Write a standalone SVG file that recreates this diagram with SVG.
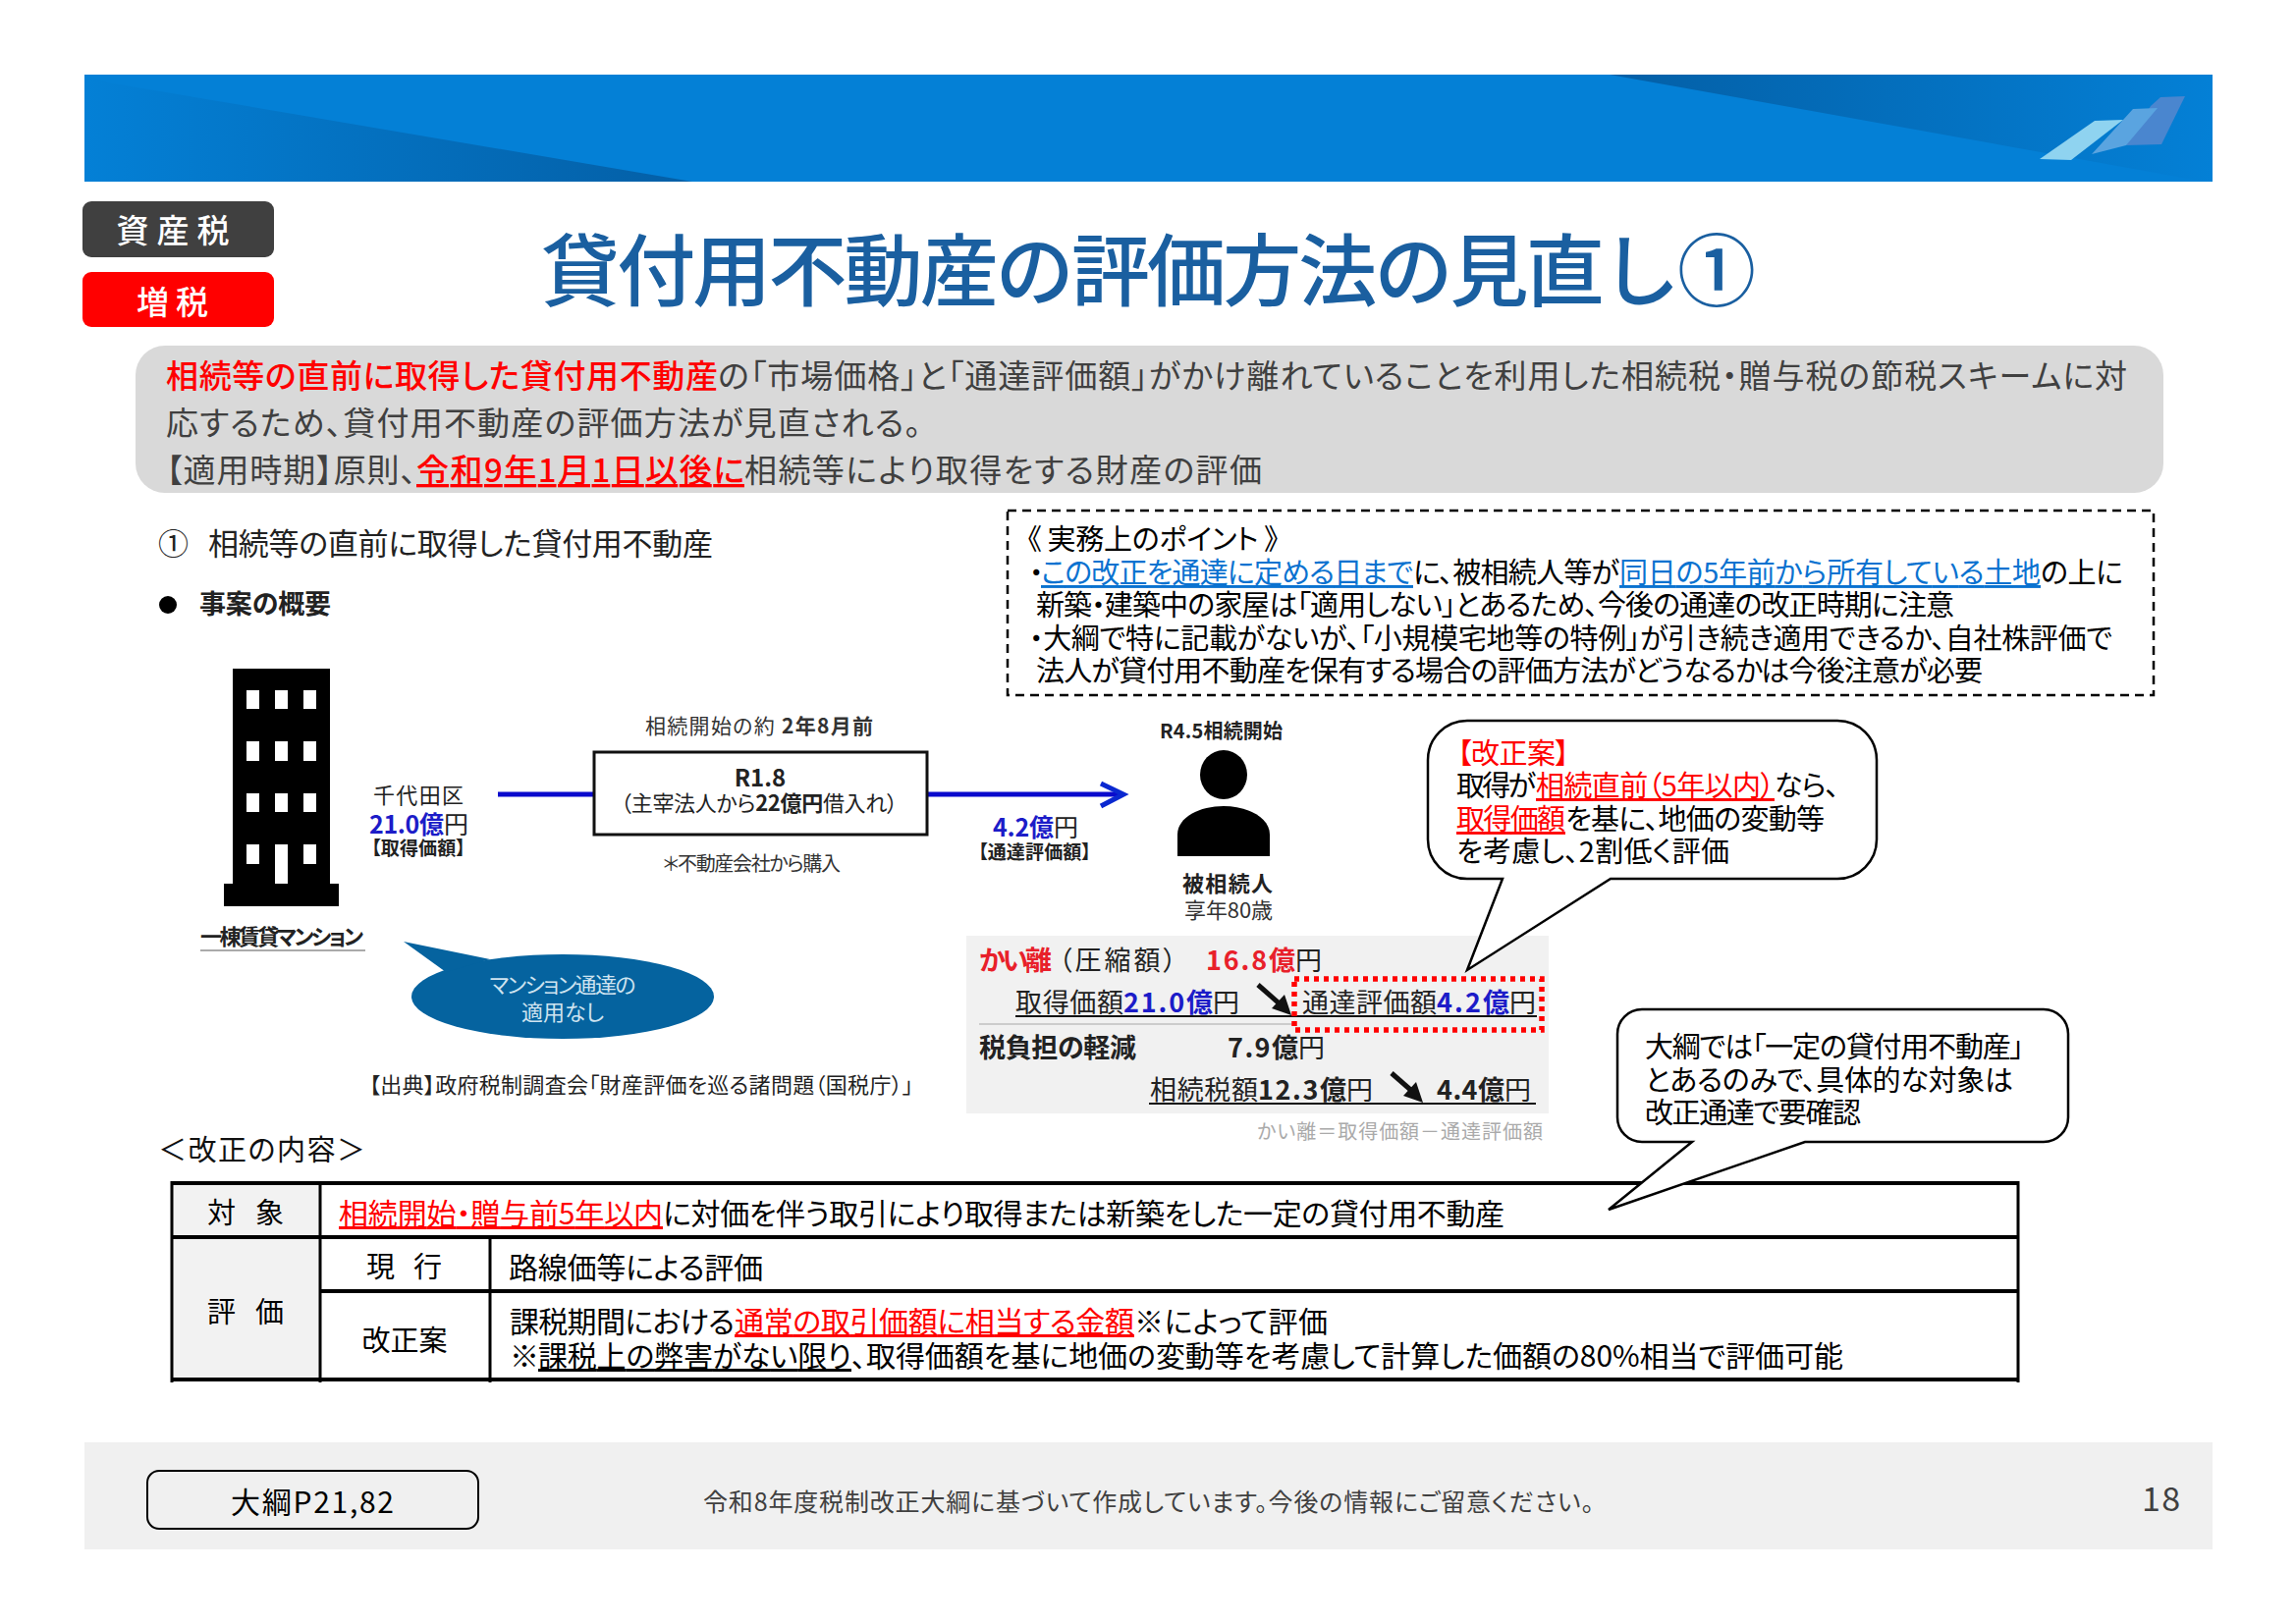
<svg xmlns="http://www.w3.org/2000/svg" width="2338" height="1653" viewBox="0 0 2338 1653">
<style>
text{font-family:"Noto Sans CJK JP","Noto Sans",sans-serif;font-feature-settings:"palt";fill:#000;white-space:pre}
.r{fill:#f00}.b{fill:#1c1cc8;font-weight:700}.u{text-decoration:underline}.bl{fill:#0a72d0}
.g{fill:#404040}.bd{font-weight:700}.m{text-anchor:middle}
.rb{fill:#e8202a;font-weight:700}
.t33{font-size:33px}.t30{font-size:30px}.t31{font-size:31px}.t29{font-size:29px}.t22{font-size:22px}.t20{font-size:20px}.t26{font-size:27px}
.call{fill:#fff;stroke:#000;stroke-width:2.5;stroke-linejoin:miter}
.cell{fill:none;stroke:#000;stroke-width:4}
</style>
<defs>
<linearGradient id="hl" x1="0" x2="1" y1="0" y2="0"><stop offset="0" stop-color="#0480d6"/><stop offset="1" stop-color="#045fa6"/></linearGradient>
<linearGradient id="hr" x1="0" x2="1" y1="0" y2="0"><stop offset="0" stop-color="#045fa6"/><stop offset="1" stop-color="#0480d6"/></linearGradient>
</defs>
<rect width="2338" height="1653" fill="#fff"/>

<g id="header">
<rect x="86" y="76" width="2167" height="109" fill="#0480d6"/>
<polygon points="86,185 86,76 110,84 705,185" fill="url(#hl)"/>
<polygon points="1639,76 2253,76 2253,185 2245,185" fill="url(#hr)"/>
<polygon points="2165,148 2190,108 2200,99 2225,98 2201,147" fill="#4a86cf"/>
<polygon points="2130,157 2162,122 2172,111 2197,110 2165,148" fill="#5aa4e0"/>
<polygon points="2077,162 2133,123 2162,122 2109,163" fill="#8fd3f0"/>
</g>

<g id="tag-asset">
<rect x="84" y="205" width="195" height="57" rx="9" fill="#404040"/>
<text x="180" y="247" class="m" font-size="33" style="fill:#fff;letter-spacing:8px;font-weight:500">資産税</text>
</g>
<g id="tag-increase">
<rect x="84" y="277" width="195" height="56" rx="9" fill="#f00"/>
<text x="179" y="320" class="m" font-size="33" style="fill:#fff;letter-spacing:7px;font-weight:500">増税</text>
</g>
<text id="title" x="551" y="305" font-size="80" textLength="1237" style="fill:#1a5fa0;font-weight:500;font-feature-settings:normal">貸付用不動産の評価方法の見直し①</text>

<g id="summary">
<rect x="138" y="352" width="2065" height="150" rx="30" fill="#d9d9d9"/>
<text y="395" class="t33 g"><tspan x="169" textLength="562" class="r" style="font-weight:500">相続等の直前に取得した貸付用不動産</tspan><tspan x="731" textLength="1435">の「市場価格」と「通達評価額」がかけ離れていることを利用した相続税・贈与税の節税スキームに対</tspan></text>
<text x="169" y="443" class="t33 g" textLength="769">応するため、貸付用不動産の評価方法が見直される。</text>
<text y="491" class="t33 g"><tspan x="169" textLength="255">【適用時期】原則、</tspan><tspan x="424" textLength="334" class="r u" style="font-weight:500">令和9年1月1日以後に</tspan><tspan x="758" textLength="527">相続等により取得をする財産の評価</tspan></text>
</g>

<g id="heading1">
<text x="161" y="565" class="t31" style="fill:#222">①</text>
<text x="212" y="565" class="t31" textLength="514" style="fill:#222">相続等の直前に取得した貸付用不動産</text>
</g>
<g id="heading2">
<circle cx="171" cy="616" r="9" fill="#000"/>
<text x="203" y="625" class="t26 bd" textLength="134" style="fill:#222">事案の概要</text>
</g>

<g id="points">
<rect x="1026" y="520" width="1167" height="188" fill="none" stroke="#000" stroke-width="2.5" stroke-dasharray="9 6"/>
<text x="1046" y="560" class="t29" textLength="256">《 実務上のポイント 》</text>
<text y="594" class="t29"><tspan x="1048" textLength="12">・</tspan><tspan x="1060" textLength="379" class="bl u">この改正を通達に定める日まで</tspan><tspan x="1439" textLength="210">に、被相続人等が</tspan><tspan x="1649" textLength="429" class="bl u">同日の5年前から所有している土地</tspan><tspan x="2078" textLength="84">の上に</tspan></text>
<text x="1055" y="627" class="t29" textLength="935">新築・建築中の家屋は「適用しない」とあるため、今後の通達の改正時期に注意</text>
<text x="1048" y="661" class="t29" textLength="1103">・大綱で特に記載がないが、「小規模宅地等の特例」が引き続き適用できるか、自社株評価で</text>
<text x="1055" y="694" class="t29" textLength="964">法人が貸付用不動産を保有する場合の評価方法がどうなるかは今後注意が必要</text>
</g>

<g id="building">
<rect x="237" y="681" width="99" height="220" fill="#000"/>
<rect x="228" y="900" width="117" height="23" fill="#000"/>
<g fill="#fff">
<rect x="251" y="703" width="13" height="19"/><rect x="280" y="703" width="13" height="19"/><rect x="309" y="703" width="13" height="19"/>
<rect x="251" y="755" width="13" height="20"/><rect x="280" y="755" width="13" height="20"/><rect x="309" y="755" width="13" height="20"/>
<rect x="251" y="808" width="13" height="19"/><rect x="280" y="808" width="13" height="19"/><rect x="309" y="808" width="13" height="19"/>
<rect x="251" y="860" width="13" height="20"/><rect x="280" y="860" width="13" height="40"/><rect x="309" y="860" width="13" height="20"/>
</g>
<text x="204" y="962" class="t22 bd" textLength="166" style="fill:#222">一棟賃貸マンション</text>
<rect x="204" y="967" width="168" height="2" fill="#aaa"/>
</g>
<g id="price-acq">
<text x="380" y="818" class="t22" textLength="92" style="fill:#222">千代田区</text>
<text y="849" font-size="25"><tspan x="376" textLength="76" class="b">21.0億</tspan><tspan x="452" textLength="23" style="fill:#222">円</tspan></text>
<text x="378" y="871" font-size="19" class="bd" textLength="96" style="fill:#222">【取得価額】</text>
</g>
<g id="connectors">
<line x1="507" y1="809" x2="605" y2="809" stroke="#0a0acd" stroke-width="5"/>
<line x1="944" y1="809" x2="1142" y2="809" stroke="#0a0acd" stroke-width="5"/>
<polyline points="1121,798 1144,809 1121,821" fill="none" stroke="#0a28d0" stroke-width="5"/>
</g>
<g id="event">
<rect x="605" y="766" width="339" height="84" fill="#fff" stroke="#111" stroke-width="3"/>
<text x="774" y="801" class="m bd" font-size="24" style="fill:#222">R1.8</text>
<text y="826" font-size="22" style="fill:#222" x="632" textLength="282">（主宰法人から<tspan class="bd">22億円</tspan>借入れ）</text>
<text y="747" font-size="21" style="fill:#333" x="657" textLength="232">相続開始の約 <tspan class="bd">2年8月前</tspan></text>
<text y="887" font-size="20" style="fill:#333" x="675" textLength="181">＊不動産会社から購入</text>
</g>
<g id="bubble">
<ellipse cx="573" cy="1015" rx="154" ry="43" fill="#05639f"/>
<polygon points="411,959 499,977 454,990" fill="#05639f"/>
<text x="573" y="1011" class="m t22" style="fill:#cfe3f0" textLength="149">マンション通達の</text>
<text x="573" y="1039" class="m t22" style="fill:#cfe3f0">適用なし</text>
</g>
<text id="source" x="376" y="1113" class="t22" textLength="554" style="fill:#222">【出典】政府税制調査会「財産評価を巡る諸問題（国税庁）」</text>

<g id="price-val">
<text y="852" font-size="25"><tspan x="1011" textLength="62" class="b">4.2億</tspan><tspan x="1073" textLength="24" style="fill:#222">円</tspan></text>
<text x="996" y="875" font-size="19" class="bd" textLength="115" style="fill:#222">【通達評価額】</text>
</g>
<g id="person">
<text x="1181" y="752" class="t20 bd" textLength="125" style="fill:#222">R4.5相続開始</text>
<ellipse cx="1246" cy="789" rx="24" ry="25" fill="#000"/>
<path d="M1199 872V850C1199 832 1222 821 1246 821S1293 832 1293 850V872Z" fill="#000"/>
<text x="1204" y="908" class="t22 bd" textLength="92" style="fill:#222">被相続人</text>
<text x="1206" y="935" class="t22" textLength="90" style="fill:#333">享年80歳</text>
</g>
<g id="calc">
<rect x="984" y="953" width="593" height="181" fill="#f1f1f1"/>
<text y="988" font-size="27"><tspan x="997" textLength="74" class="rb">かい離</tspan><tspan x="1078" textLength="120" style="fill:#222">（圧縮額）</tspan><tspan x="1228" textLength="91" class="rb">16.8億</tspan><tspan x="1319" textLength="26" style="fill:#222">円</tspan></text>
<text y="1031" font-size="27"><tspan x="1034" textLength="110" style="fill:#222">取得価額</tspan><tspan x="1144" textLength="91" class="b">21.0億</tspan><tspan x="1235" textLength="26" style="fill:#222">円</tspan><tspan x="1326" textLength="137" style="fill:#222">通達評価額</tspan><tspan x="1463" textLength="74" class="b">4.2億</tspan><tspan x="1537" textLength="25" style="fill:#222">円</tspan></text>
<line x1="1034" y1="1035" x2="1565" y2="1035" stroke="#111" stroke-width="2"/>
<line x1="997" y1="1043" x2="1316" y2="1043" stroke="#ccc" stroke-width="2"/>
<line x1="1281" y1="1003" x2="1306" y2="1025" stroke="#111" stroke-width="5"/>
<polygon points="1315,1034 1295,1027 1308,1013" fill="#111"/>
<rect x="1318" y="997" width="252" height="52" fill="none" stroke="#f00" stroke-width="5.5" stroke-dasharray="5 5"/>
<text y="1077" font-size="27"><tspan x="997" textLength="160" class="bd" style="fill:#222">税負担の軽減</tspan><tspan x="1250" textLength="72" class="bd" style="fill:#222">7.9億</tspan><tspan x="1322" textLength="25" style="fill:#222">円</tspan></text>
<text y="1120" font-size="27"><tspan x="1171" textLength="110" style="fill:#222">相続税額</tspan><tspan x="1281" textLength="90" class="bd" style="fill:#222">12.3億</tspan><tspan x="1371" textLength="26" style="fill:#222">円</tspan><tspan x="1463" textLength="69" class="bd" style="fill:#222">4.4億</tspan><tspan x="1532" textLength="30" style="fill:#222">円</tspan></text>
<line x1="1170" y1="1124" x2="1564" y2="1124" stroke="#111" stroke-width="2"/>
<line x1="1417" y1="1093" x2="1441" y2="1114" stroke="#111" stroke-width="5"/>
<polygon points="1449,1123 1429,1116 1442,1102" fill="#111"/>
<text x="1280" y="1160" class="t20" textLength="291" style="fill:#aaa">かい離＝取得価額－通達評価額</text>
</g>

<g id="callout1">
<path class="call" d="M1494 734H1871A40 40 0 0 1 1911 774V855A40 40 0 0 1 1871 895H1640L1494 988L1530 895H1494A40 40 0 0 1 1454 855V774A40 40 0 0 1 1494 734Z"/>
<text x="1484" y="778" class="t29 r" textLength="114">【改正案】</text>
<text y="811" class="t29"><tspan x="1483" textLength="81">取得が</tspan><tspan x="1564" textLength="243" class="r u">相続直前（5年以内）</tspan><tspan x="1807" textLength="66">なら、</tspan></text>
<text y="845" class="t29"><tspan x="1483" textLength="111" class="r u">取得価額</tspan><tspan x="1594" textLength="264">を基に、地価の変動等</tspan></text>
<text x="1483" y="878" class="t29" textLength="278">を考慮し、2割低く評価</text>
</g>

<g id="table">
<rect x="175" y="1205" width="151" height="200" fill="#f2f2f2"/>
<path class="cell" d="M175 1205H2055M175 1260H2055M326 1315H2055M175 1405H2055"/>
<path d="M175 1203V1408M326 1203V1408M499 1260V1408M2055 1203V1408" fill="none" stroke="#000" stroke-width="3"/>
<text x="211" y="1246" class="t29" textLength="78">対　象</text>
<text x="211" y="1347" class="t29" textLength="78">評　価</text>
<text x="373" y="1301" class="t29" textLength="77">現　行</text>
<text x="412" y="1376" class="m t29">改正案</text>
<text y="1247" class="t30"><tspan x="345" textLength="330" class="r u">相続開始・贈与前5年以内</tspan><tspan x="675" textLength="857">に対価を伴う取引により取得または新築をした一定の貸付用不動産</tspan></text>
<text x="518" y="1302" class="t30" textLength="259">路線価等による評価</text>
<text y="1357" class="t30"><tspan x="519" textLength="229">課税期間における</tspan><tspan x="748" textLength="407" class="r u">通常の取引価額に相当する金額</tspan><tspan x="1155" textLength="197">※によって評価</tspan></text>
<text y="1392" class="t30"><tspan x="519" textLength="29">※</tspan><tspan x="548" textLength="319" class="u">課税上の弊害がない限り</tspan><tspan x="867" textLength="1010">、取得価額を基に地価の変動等を考慮して計算した価額の80%相当で評価可能</tspan></text>
</g>
<text id="revision-label" x="161" y="1182" class="t29" textLength="211" style="fill:#111">＜改正の内容＞</text>

<g id="callout2">
<path class="call" d="M1672 1028H2081A25 25 0 0 1 2106 1053V1138A25 25 0 0 1 2081 1163H1838L1638 1232L1723 1163H1672A25 25 0 0 1 1647 1138V1053A25 25 0 0 1 1672 1028Z"/>
<text x="1675" y="1077" class="t29" textLength="386">大綱では「一定の貸付用不動産」</text>
<text x="1675" y="1111" class="t29" textLength="375">とあるのみで、具体的な対象は</text>
<text x="1675" y="1144" class="t29" textLength="220">改正通達で要確認</text>
</g>

<g id="footer">
<rect x="86" y="1469" width="2167" height="109" fill="#f0f0f0"/>
<rect x="150" y="1498" width="337" height="59" rx="12" fill="#f0f0f0" stroke="#000" stroke-width="2"/>
<text x="235" y="1541" class="t30" textLength="166">大綱P21,82</text>
<text x="716" y="1539" font-size="25" class="g" textLength="907">令和8年度税制改正大綱に基づいて作成しています。今後の情報にご留意ください。</text>
<text x="2181" y="1539" font-size="34" class="g" textLength="39">18</text>
</g>
</svg>
